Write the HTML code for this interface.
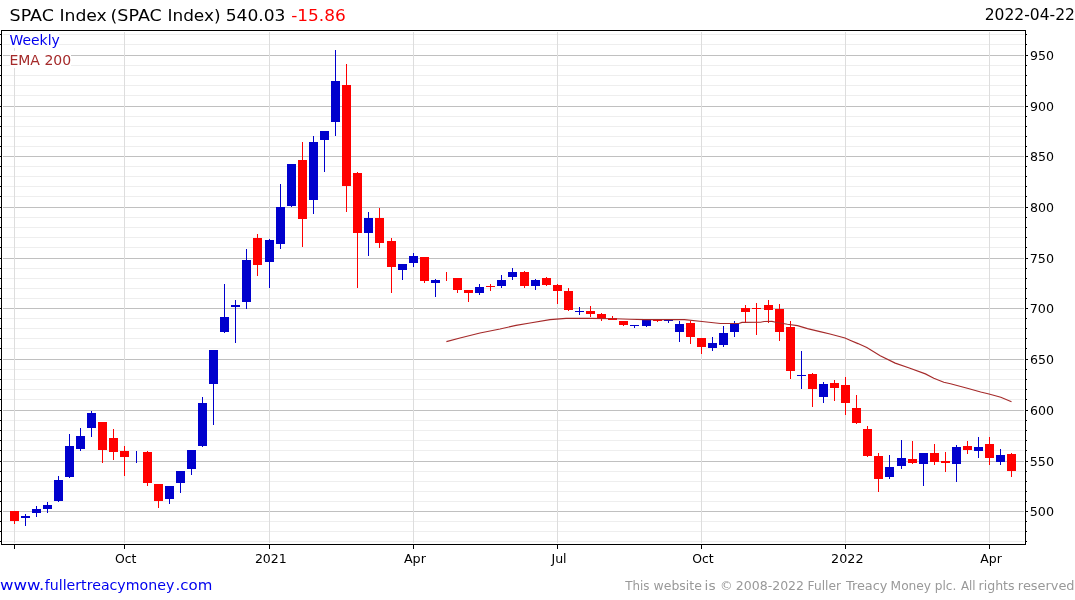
<!DOCTYPE html>
<html lang="en"><head><meta charset="utf-8"><title>SPAC Index</title>
<style>html,body{margin:0;padding:0;background:#fff}body{width:1075px;height:600px;overflow:hidden}svg{display:block}text{font-family:"DejaVu Sans","Liberation Sans",sans-serif}</style></head><body>
<svg width="1075" height="600" viewBox="0 0 1075 600">
<rect width="1075" height="600" fill="#fff"/>
<g shape-rendering="crispEdges">
<rect x="3" y="541" width="1021" height="1" fill="#eeeeee"/><rect x="3" y="531" width="1021" height="1" fill="#eeeeee"/><rect x="3" y="521" width="1021" height="1" fill="#eeeeee"/><rect x="3" y="511" width="1021" height="1" fill="#c0c0c0"/><rect x="3" y="501" width="1021" height="1" fill="#eeeeee"/><rect x="3" y="491" width="1021" height="1" fill="#eeeeee"/><rect x="3" y="481" width="1021" height="1" fill="#eeeeee"/><rect x="3" y="471" width="1021" height="1" fill="#eeeeee"/><rect x="3" y="461" width="1021" height="1" fill="#c0c0c0"/><rect x="3" y="450" width="1021" height="1" fill="#eeeeee"/><rect x="3" y="440" width="1021" height="1" fill="#eeeeee"/><rect x="3" y="430" width="1021" height="1" fill="#eeeeee"/><rect x="3" y="420" width="1021" height="1" fill="#eeeeee"/><rect x="3" y="410" width="1021" height="1" fill="#c0c0c0"/><rect x="3" y="399" width="1021" height="1" fill="#eeeeee"/><rect x="3" y="389" width="1021" height="1" fill="#eeeeee"/><rect x="3" y="379" width="1021" height="1" fill="#eeeeee"/><rect x="3" y="369" width="1021" height="1" fill="#eeeeee"/><rect x="3" y="359" width="1021" height="1" fill="#c0c0c0"/><rect x="3" y="348" width="1021" height="1" fill="#eeeeee"/><rect x="3" y="338" width="1021" height="1" fill="#eeeeee"/><rect x="3" y="328" width="1021" height="1" fill="#eeeeee"/><rect x="3" y="318" width="1021" height="1" fill="#eeeeee"/><rect x="3" y="308" width="1021" height="1" fill="#c0c0c0"/><rect x="3" y="298" width="1021" height="1" fill="#eeeeee"/><rect x="3" y="288" width="1021" height="1" fill="#eeeeee"/><rect x="3" y="278" width="1021" height="1" fill="#eeeeee"/><rect x="3" y="268" width="1021" height="1" fill="#eeeeee"/><rect x="3" y="258" width="1021" height="1" fill="#c0c0c0"/><rect x="3" y="247" width="1021" height="1" fill="#eeeeee"/><rect x="3" y="237" width="1021" height="1" fill="#eeeeee"/><rect x="3" y="227" width="1021" height="1" fill="#eeeeee"/><rect x="3" y="217" width="1021" height="1" fill="#eeeeee"/><rect x="3" y="207" width="1021" height="1" fill="#c0c0c0"/><rect x="3" y="196" width="1021" height="1" fill="#eeeeee"/><rect x="3" y="186" width="1021" height="1" fill="#eeeeee"/><rect x="3" y="176" width="1021" height="1" fill="#eeeeee"/><rect x="3" y="166" width="1021" height="1" fill="#eeeeee"/><rect x="3" y="156" width="1021" height="1" fill="#c0c0c0"/><rect x="3" y="146" width="1021" height="1" fill="#eeeeee"/><rect x="3" y="136" width="1021" height="1" fill="#eeeeee"/><rect x="3" y="126" width="1021" height="1" fill="#eeeeee"/><rect x="3" y="116" width="1021" height="1" fill="#eeeeee"/><rect x="3" y="106" width="1021" height="1" fill="#c0c0c0"/><rect x="3" y="95" width="1021" height="1" fill="#eeeeee"/><rect x="3" y="85" width="1021" height="1" fill="#eeeeee"/><rect x="3" y="75" width="1021" height="1" fill="#eeeeee"/><rect x="3" y="65" width="1021" height="1" fill="#eeeeee"/><rect x="3" y="55" width="1021" height="1" fill="#c0c0c0"/><rect x="3" y="44" width="1021" height="1" fill="#eeeeee"/><rect x="3" y="34" width="1021" height="1" fill="#eeeeee"/>
<rect x="14" y="32" width="1" height="511" fill="#dddddd"/><rect x="124" y="32" width="1" height="511" fill="#dddddd"/><rect x="269" y="32" width="1" height="511" fill="#dddddd"/><rect x="413" y="32" width="1" height="511" fill="#dddddd"/><rect x="557" y="32" width="1" height="511" fill="#dddddd"/><rect x="701" y="32" width="1" height="511" fill="#dddddd"/><rect x="845" y="32" width="1" height="511" fill="#dddddd"/><rect x="989" y="32" width="1" height="511" fill="#dddddd"/>
<rect x="10" y="31" width="49" height="17" fill="#fff"/><rect x="10" y="51" width="61" height="17" fill="#fff"/>
<rect x="1" y="30" width="1025" height="1" fill="#000"/><rect x="1" y="544" width="1025" height="1" fill="#000"/><rect x="1" y="30" width="1" height="515" fill="#000"/><rect x="1025" y="30" width="1" height="515" fill="#000"/>
<rect x="0" y="541" width="1" height="1" fill="#000"/><rect x="1026" y="541" width="1" height="1" fill="#000"/><rect x="0" y="531" width="1" height="1" fill="#000"/><rect x="1026" y="531" width="1" height="1" fill="#000"/><rect x="0" y="521" width="1" height="1" fill="#000"/><rect x="1026" y="521" width="1" height="1" fill="#000"/><rect x="0" y="511" width="1" height="1" fill="#000"/><rect x="1026" y="511" width="2" height="1" fill="#000"/><rect x="0" y="501" width="1" height="1" fill="#000"/><rect x="1026" y="501" width="1" height="1" fill="#000"/><rect x="0" y="491" width="1" height="1" fill="#000"/><rect x="1026" y="491" width="1" height="1" fill="#000"/><rect x="0" y="481" width="1" height="1" fill="#000"/><rect x="1026" y="481" width="1" height="1" fill="#000"/><rect x="0" y="471" width="1" height="1" fill="#000"/><rect x="1026" y="471" width="1" height="1" fill="#000"/><rect x="0" y="461" width="1" height="1" fill="#000"/><rect x="1026" y="461" width="2" height="1" fill="#000"/><rect x="0" y="450" width="1" height="1" fill="#000"/><rect x="1026" y="450" width="1" height="1" fill="#000"/><rect x="0" y="440" width="1" height="1" fill="#000"/><rect x="1026" y="440" width="1" height="1" fill="#000"/><rect x="0" y="430" width="1" height="1" fill="#000"/><rect x="1026" y="430" width="1" height="1" fill="#000"/><rect x="0" y="420" width="1" height="1" fill="#000"/><rect x="1026" y="420" width="1" height="1" fill="#000"/><rect x="0" y="410" width="1" height="1" fill="#000"/><rect x="1026" y="410" width="2" height="1" fill="#000"/><rect x="0" y="399" width="1" height="1" fill="#000"/><rect x="1026" y="399" width="1" height="1" fill="#000"/><rect x="0" y="389" width="1" height="1" fill="#000"/><rect x="1026" y="389" width="1" height="1" fill="#000"/><rect x="0" y="379" width="1" height="1" fill="#000"/><rect x="1026" y="379" width="1" height="1" fill="#000"/><rect x="0" y="369" width="1" height="1" fill="#000"/><rect x="1026" y="369" width="1" height="1" fill="#000"/><rect x="0" y="359" width="1" height="1" fill="#000"/><rect x="1026" y="359" width="2" height="1" fill="#000"/><rect x="0" y="348" width="1" height="1" fill="#000"/><rect x="1026" y="348" width="1" height="1" fill="#000"/><rect x="0" y="338" width="1" height="1" fill="#000"/><rect x="1026" y="338" width="1" height="1" fill="#000"/><rect x="0" y="328" width="1" height="1" fill="#000"/><rect x="1026" y="328" width="1" height="1" fill="#000"/><rect x="0" y="318" width="1" height="1" fill="#000"/><rect x="1026" y="318" width="1" height="1" fill="#000"/><rect x="0" y="308" width="1" height="1" fill="#000"/><rect x="1026" y="308" width="2" height="1" fill="#000"/><rect x="0" y="298" width="1" height="1" fill="#000"/><rect x="1026" y="298" width="1" height="1" fill="#000"/><rect x="0" y="288" width="1" height="1" fill="#000"/><rect x="1026" y="288" width="1" height="1" fill="#000"/><rect x="0" y="278" width="1" height="1" fill="#000"/><rect x="1026" y="278" width="1" height="1" fill="#000"/><rect x="0" y="268" width="1" height="1" fill="#000"/><rect x="1026" y="268" width="1" height="1" fill="#000"/><rect x="0" y="258" width="1" height="1" fill="#000"/><rect x="1026" y="258" width="2" height="1" fill="#000"/><rect x="0" y="247" width="1" height="1" fill="#000"/><rect x="1026" y="247" width="1" height="1" fill="#000"/><rect x="0" y="237" width="1" height="1" fill="#000"/><rect x="1026" y="237" width="1" height="1" fill="#000"/><rect x="0" y="227" width="1" height="1" fill="#000"/><rect x="1026" y="227" width="1" height="1" fill="#000"/><rect x="0" y="217" width="1" height="1" fill="#000"/><rect x="1026" y="217" width="1" height="1" fill="#000"/><rect x="0" y="207" width="1" height="1" fill="#000"/><rect x="1026" y="207" width="2" height="1" fill="#000"/><rect x="0" y="196" width="1" height="1" fill="#000"/><rect x="1026" y="196" width="1" height="1" fill="#000"/><rect x="0" y="186" width="1" height="1" fill="#000"/><rect x="1026" y="186" width="1" height="1" fill="#000"/><rect x="0" y="176" width="1" height="1" fill="#000"/><rect x="1026" y="176" width="1" height="1" fill="#000"/><rect x="0" y="166" width="1" height="1" fill="#000"/><rect x="1026" y="166" width="1" height="1" fill="#000"/><rect x="0" y="156" width="1" height="1" fill="#000"/><rect x="1026" y="156" width="2" height="1" fill="#000"/><rect x="0" y="146" width="1" height="1" fill="#000"/><rect x="1026" y="146" width="1" height="1" fill="#000"/><rect x="0" y="136" width="1" height="1" fill="#000"/><rect x="1026" y="136" width="1" height="1" fill="#000"/><rect x="0" y="126" width="1" height="1" fill="#000"/><rect x="1026" y="126" width="1" height="1" fill="#000"/><rect x="0" y="116" width="1" height="1" fill="#000"/><rect x="1026" y="116" width="1" height="1" fill="#000"/><rect x="0" y="106" width="1" height="1" fill="#000"/><rect x="1026" y="106" width="2" height="1" fill="#000"/><rect x="0" y="95" width="1" height="1" fill="#000"/><rect x="1026" y="95" width="1" height="1" fill="#000"/><rect x="0" y="85" width="1" height="1" fill="#000"/><rect x="1026" y="85" width="1" height="1" fill="#000"/><rect x="0" y="75" width="1" height="1" fill="#000"/><rect x="1026" y="75" width="1" height="1" fill="#000"/><rect x="0" y="65" width="1" height="1" fill="#000"/><rect x="1026" y="65" width="1" height="1" fill="#000"/><rect x="0" y="55" width="1" height="1" fill="#000"/><rect x="1026" y="55" width="2" height="1" fill="#000"/><rect x="0" y="44" width="1" height="1" fill="#000"/><rect x="1026" y="44" width="1" height="1" fill="#000"/><rect x="0" y="34" width="1" height="1" fill="#000"/><rect x="1026" y="34" width="1" height="1" fill="#000"/><rect x="14" y="545" width="1" height="4" fill="#000"/><rect x="124" y="545" width="1" height="4" fill="#000"/><rect x="269" y="545" width="1" height="4" fill="#000"/><rect x="413" y="545" width="1" height="4" fill="#000"/><rect x="557" y="545" width="1" height="4" fill="#000"/><rect x="701" y="545" width="1" height="4" fill="#000"/><rect x="845" y="545" width="1" height="4" fill="#000"/><rect x="989" y="545" width="1" height="4" fill="#000"/>
</g>
<g shape-rendering="crispEdges">
<rect x="14" y="511" width="1" height="13" fill="#ff0000"/><rect x="10" y="511" width="9" height="10" fill="#ff0000"/><rect x="25" y="514" width="1" height="12" fill="#0000cd"/><rect x="21" y="516" width="9" height="2" fill="#0000cd"/><rect x="36" y="506" width="1" height="11" fill="#0000cd"/><rect x="32" y="509" width="9" height="4" fill="#0000cd"/><rect x="47" y="502" width="1" height="11" fill="#0000cd"/><rect x="43" y="505" width="9" height="4" fill="#0000cd"/><rect x="58" y="476" width="1" height="26" fill="#0000cd"/><rect x="54" y="480" width="9" height="21" fill="#0000cd"/><rect x="69" y="434" width="1" height="44" fill="#0000cd"/><rect x="65" y="446" width="9" height="31" fill="#0000cd"/><rect x="80" y="428" width="1" height="23" fill="#0000cd"/><rect x="76" y="436" width="9" height="13" fill="#0000cd"/><rect x="91" y="411" width="1" height="26" fill="#0000cd"/><rect x="87" y="413" width="9" height="15" fill="#0000cd"/><rect x="102" y="422" width="1" height="41" fill="#ff0000"/><rect x="98" y="422" width="9" height="28" fill="#ff0000"/><rect x="113" y="429" width="1" height="31" fill="#ff0000"/><rect x="109" y="438" width="9" height="14" fill="#ff0000"/><rect x="124" y="446" width="1" height="30" fill="#ff0000"/><rect x="120" y="451" width="9" height="6" fill="#ff0000"/><rect x="136" y="451" width="1" height="12" fill="#0000cd"/><rect x="147" y="451" width="1" height="35" fill="#ff0000"/><rect x="143" y="452" width="9" height="31" fill="#ff0000"/><rect x="158" y="484" width="1" height="24" fill="#ff0000"/><rect x="154" y="484" width="9" height="17" fill="#ff0000"/><rect x="169" y="486" width="1" height="18" fill="#0000cd"/><rect x="165" y="486" width="9" height="13" fill="#0000cd"/><rect x="180" y="471" width="1" height="22" fill="#0000cd"/><rect x="176" y="471" width="9" height="12" fill="#0000cd"/><rect x="191" y="450" width="1" height="25" fill="#0000cd"/><rect x="187" y="450" width="9" height="19" fill="#0000cd"/><rect x="202" y="397" width="1" height="50" fill="#0000cd"/><rect x="198" y="403" width="9" height="43" fill="#0000cd"/><rect x="213" y="350" width="1" height="75" fill="#0000cd"/><rect x="209" y="350" width="9" height="34" fill="#0000cd"/><rect x="224" y="284" width="1" height="49" fill="#0000cd"/><rect x="220" y="317" width="9" height="15" fill="#0000cd"/><rect x="235" y="300" width="1" height="43" fill="#0000cd"/><rect x="231" y="305" width="9" height="2" fill="#0000cd"/><rect x="246" y="249" width="1" height="60" fill="#0000cd"/><rect x="242" y="260" width="9" height="42" fill="#0000cd"/><rect x="257" y="234" width="1" height="42" fill="#ff0000"/><rect x="253" y="238" width="9" height="27" fill="#ff0000"/><rect x="269" y="239" width="1" height="49" fill="#0000cd"/><rect x="265" y="240" width="9" height="22" fill="#0000cd"/><rect x="280" y="184" width="1" height="65" fill="#0000cd"/><rect x="276" y="207" width="9" height="37" fill="#0000cd"/><rect x="291" y="164" width="1" height="43" fill="#0000cd"/><rect x="287" y="164" width="9" height="42" fill="#0000cd"/><rect x="302" y="142" width="1" height="105" fill="#ff0000"/><rect x="298" y="160" width="9" height="59" fill="#ff0000"/><rect x="313" y="136" width="1" height="78" fill="#0000cd"/><rect x="309" y="142" width="9" height="58" fill="#0000cd"/><rect x="324" y="131" width="1" height="41" fill="#0000cd"/><rect x="320" y="131" width="9" height="9" fill="#0000cd"/><rect x="335" y="50" width="1" height="86" fill="#0000cd"/><rect x="331" y="81" width="9" height="41" fill="#0000cd"/><rect x="346" y="64" width="1" height="148" fill="#ff0000"/><rect x="342" y="85" width="9" height="101" fill="#ff0000"/><rect x="357" y="172" width="1" height="116" fill="#ff0000"/><rect x="353" y="173" width="9" height="60" fill="#ff0000"/><rect x="368" y="212" width="1" height="44" fill="#0000cd"/><rect x="364" y="218" width="9" height="15" fill="#0000cd"/><rect x="379" y="208" width="1" height="40" fill="#ff0000"/><rect x="375" y="218" width="9" height="25" fill="#ff0000"/><rect x="391" y="238" width="1" height="55" fill="#ff0000"/><rect x="387" y="241" width="9" height="26" fill="#ff0000"/><rect x="402" y="264" width="1" height="16" fill="#0000cd"/><rect x="398" y="264" width="9" height="6" fill="#0000cd"/><rect x="413" y="253" width="1" height="14" fill="#0000cd"/><rect x="409" y="256" width="9" height="7" fill="#0000cd"/><rect x="424" y="257" width="1" height="26" fill="#ff0000"/><rect x="420" y="257" width="9" height="24" fill="#ff0000"/><rect x="435" y="279" width="1" height="18" fill="#0000cd"/><rect x="431" y="280" width="9" height="3" fill="#0000cd"/><rect x="446" y="272" width="1" height="9" fill="#ff0000"/><rect x="457" y="278" width="1" height="15" fill="#ff0000"/><rect x="453" y="278" width="9" height="12" fill="#ff0000"/><rect x="468" y="290" width="1" height="12" fill="#ff0000"/><rect x="464" y="290" width="9" height="3" fill="#ff0000"/><rect x="479" y="284" width="1" height="11" fill="#0000cd"/><rect x="475" y="287" width="9" height="6" fill="#0000cd"/><rect x="490" y="284" width="1" height="7" fill="#ff0000"/><rect x="486" y="286" width="9" height="1" fill="#ff0000"/><rect x="501" y="275" width="1" height="13" fill="#0000cd"/><rect x="497" y="280" width="9" height="6" fill="#0000cd"/><rect x="512" y="268" width="1" height="12" fill="#0000cd"/><rect x="508" y="272" width="9" height="5" fill="#0000cd"/><rect x="524" y="271" width="1" height="17" fill="#ff0000"/><rect x="520" y="272" width="9" height="14" fill="#ff0000"/><rect x="535" y="279" width="1" height="11" fill="#0000cd"/><rect x="531" y="280" width="9" height="6" fill="#0000cd"/><rect x="546" y="277" width="1" height="9" fill="#ff0000"/><rect x="542" y="278" width="9" height="7" fill="#ff0000"/><rect x="557" y="284" width="1" height="20" fill="#ff0000"/><rect x="553" y="285" width="9" height="6" fill="#ff0000"/><rect x="568" y="288" width="1" height="23" fill="#ff0000"/><rect x="564" y="291" width="9" height="19" fill="#ff0000"/><rect x="579" y="307" width="1" height="8" fill="#0000cd"/><rect x="575" y="311" width="9" height="1" fill="#0000cd"/><rect x="590" y="306" width="1" height="11" fill="#ff0000"/><rect x="586" y="311" width="9" height="3" fill="#ff0000"/><rect x="601" y="313" width="1" height="8" fill="#ff0000"/><rect x="597" y="314" width="9" height="5" fill="#ff0000"/><rect x="612" y="316" width="1" height="4" fill="#ff0000"/><rect x="608" y="318" width="9" height="2" fill="#ff0000"/><rect x="623" y="321" width="1" height="5" fill="#ff0000"/><rect x="619" y="321" width="9" height="4" fill="#ff0000"/><rect x="634" y="325" width="1" height="3" fill="#0000cd"/><rect x="630" y="325" width="9" height="1" fill="#0000cd"/><rect x="646" y="320" width="1" height="7" fill="#0000cd"/><rect x="642" y="320" width="9" height="6" fill="#0000cd"/><rect x="657" y="320" width="1" height="2" fill="#ff0000"/><rect x="653" y="320" width="9" height="1" fill="#ff0000"/><rect x="668" y="320" width="1" height="3" fill="#0000cd"/><rect x="664" y="320" width="9" height="1" fill="#0000cd"/><rect x="679" y="321" width="1" height="21" fill="#0000cd"/><rect x="675" y="324" width="9" height="8" fill="#0000cd"/><rect x="690" y="321" width="1" height="23" fill="#ff0000"/><rect x="686" y="323" width="9" height="14" fill="#ff0000"/><rect x="701" y="338" width="1" height="16" fill="#ff0000"/><rect x="697" y="338" width="9" height="9" fill="#ff0000"/><rect x="712" y="337" width="1" height="14" fill="#0000cd"/><rect x="708" y="343" width="9" height="5" fill="#0000cd"/><rect x="723" y="326" width="1" height="21" fill="#0000cd"/><rect x="719" y="333" width="9" height="12" fill="#0000cd"/><rect x="734" y="321" width="1" height="16" fill="#0000cd"/><rect x="730" y="324" width="9" height="8" fill="#0000cd"/><rect x="745" y="305" width="1" height="18" fill="#ff0000"/><rect x="741" y="308" width="9" height="4" fill="#ff0000"/><rect x="756" y="303" width="1" height="32" fill="#ff0000"/><rect x="752" y="308" width="9" height="1" fill="#ff0000"/><rect x="768" y="300" width="1" height="23" fill="#ff0000"/><rect x="764" y="305" width="9" height="5" fill="#ff0000"/><rect x="779" y="304" width="1" height="37" fill="#ff0000"/><rect x="775" y="309" width="9" height="23" fill="#ff0000"/><rect x="790" y="321" width="1" height="58" fill="#ff0000"/><rect x="786" y="327" width="9" height="44" fill="#ff0000"/><rect x="801" y="351" width="1" height="38" fill="#0000cd"/><rect x="797" y="375" width="9" height="1" fill="#0000cd"/><rect x="812" y="373" width="1" height="34" fill="#ff0000"/><rect x="808" y="374" width="9" height="15" fill="#ff0000"/><rect x="823" y="382" width="1" height="21" fill="#0000cd"/><rect x="819" y="384" width="9" height="13" fill="#0000cd"/><rect x="834" y="380" width="1" height="21" fill="#ff0000"/><rect x="830" y="383" width="9" height="5" fill="#ff0000"/><rect x="845" y="377" width="1" height="38" fill="#ff0000"/><rect x="841" y="385" width="9" height="18" fill="#ff0000"/><rect x="856" y="395" width="1" height="29" fill="#ff0000"/><rect x="852" y="408" width="9" height="15" fill="#ff0000"/><rect x="867" y="426" width="1" height="31" fill="#ff0000"/><rect x="863" y="429" width="9" height="27" fill="#ff0000"/><rect x="878" y="453" width="1" height="39" fill="#ff0000"/><rect x="874" y="456" width="9" height="23" fill="#ff0000"/><rect x="889" y="455" width="1" height="24" fill="#0000cd"/><rect x="885" y="467" width="9" height="10" fill="#0000cd"/><rect x="901" y="440" width="1" height="29" fill="#0000cd"/><rect x="897" y="458" width="9" height="8" fill="#0000cd"/><rect x="912" y="441" width="1" height="23" fill="#ff0000"/><rect x="908" y="459" width="9" height="4" fill="#ff0000"/><rect x="923" y="453" width="1" height="33" fill="#0000cd"/><rect x="919" y="453" width="9" height="11" fill="#0000cd"/><rect x="934" y="444" width="1" height="21" fill="#ff0000"/><rect x="930" y="453" width="9" height="9" fill="#ff0000"/><rect x="945" y="452" width="1" height="20" fill="#ff0000"/><rect x="941" y="461" width="9" height="2" fill="#ff0000"/><rect x="956" y="445" width="1" height="37" fill="#0000cd"/><rect x="952" y="447" width="9" height="17" fill="#0000cd"/><rect x="967" y="441" width="1" height="13" fill="#ff0000"/><rect x="963" y="446" width="9" height="4" fill="#ff0000"/><rect x="978" y="437" width="1" height="21" fill="#0000cd"/><rect x="974" y="447" width="9" height="4" fill="#0000cd"/><rect x="989" y="437" width="1" height="28" fill="#ff0000"/><rect x="985" y="444" width="9" height="14" fill="#ff0000"/><rect x="1000" y="449" width="1" height="16" fill="#0000cd"/><rect x="996" y="455" width="9" height="7" fill="#0000cd"/><rect x="1011" y="453" width="1" height="24" fill="#ff0000"/><rect x="1007" y="454" width="9" height="17" fill="#ff0000"/>
</g>
<polyline points="446.4,341.6 460.0,338.0 480.0,333.0 500.0,329.0 516.0,325.4 530.0,323.0 550.0,319.6 566.0,318.4 590.0,318.4 615.0,318.8 630.0,319.2 645.0,319.6 684.4,319.6 702.0,321.5 720.4,323.5 738.8,323.5 742.0,322.4 760.6,322.3 764.0,321.5 772.0,321.4 775.7,322.3 787.4,324.3 797.5,325.6 807.5,328.6 820.0,331.6 830.0,334.0 845.0,338.0 850.0,340.2 858.0,343.6 866.8,347.6 880.2,355.7 895.2,363.1 908.6,367.7 925.4,373.9 933.8,378.2 943.8,382.2 950.5,383.7 967.3,388.3 980.7,392.0 989.0,394.0 1000.8,397.3 1011.5,401.7" fill="none" stroke="#a52a2a" stroke-width="1.15"/>
<text id="t1" y="20.8" font-size="16" fill="#000"><tspan x="9.55" textLength="44.40" lengthAdjust="spacingAndGlyphs">SPAC</tspan> <tspan x="59.42" textLength="47.39" lengthAdjust="spacingAndGlyphs">Index</tspan> <tspan x="110.55" textLength="51.21" lengthAdjust="spacingAndGlyphs">(SPAC</tspan> <tspan x="167.48" textLength="53.08" lengthAdjust="spacingAndGlyphs">Index)</tspan> <tspan x="225.68" textLength="59.73" lengthAdjust="spacingAndGlyphs">540.03</tspan> <tspan fill="#ff0000"><tspan x="291.23" textLength="54.54" lengthAdjust="spacingAndGlyphs">-15.86</tspan></tspan></text>
<text id="t3" x="984.66" y="20.2" font-size="15" fill="#000" textLength="90.26" lengthAdjust="spacingAndGlyphs">2022-04-22</text>
<text id="t4" x="9.49" y="45" font-size="14" fill="#0000ee" textLength="50.35" lengthAdjust="spacingAndGlyphs">Weekly</text>
<text id="t5" x="9.41" y="65" font-size="13.5" fill="#a52a2a" textLength="61.76" lengthAdjust="spacingAndGlyphs">EMA 200</text>
<text class="yl" x="1029.97" y="59.9" font-size="12" fill="#000" textLength="24.00" lengthAdjust="spacingAndGlyphs">950</text>
<text class="yl" x="1029.97" y="110.9" font-size="12" fill="#000" textLength="24.00" lengthAdjust="spacingAndGlyphs">900</text>
<text class="yl" x="1029.97" y="160.9" font-size="12" fill="#000" textLength="24.00" lengthAdjust="spacingAndGlyphs">850</text>
<text class="yl" x="1029.97" y="211.9" font-size="12" fill="#000" textLength="24.00" lengthAdjust="spacingAndGlyphs">800</text>
<text class="yl" x="1029.70" y="262.9" font-size="12" fill="#000" textLength="24.29" lengthAdjust="spacingAndGlyphs">750</text>
<text class="yl" x="1029.70" y="312.9" font-size="12" fill="#000" textLength="24.29" lengthAdjust="spacingAndGlyphs">700</text>
<text class="yl" x="1029.97" y="363.9" font-size="12" fill="#000" textLength="24.00" lengthAdjust="spacingAndGlyphs">650</text>
<text class="yl" x="1029.97" y="414.9" font-size="12" fill="#000" textLength="24.00" lengthAdjust="spacingAndGlyphs">600</text>
<text class="yl" x="1029.70" y="465.9" font-size="12" fill="#000" textLength="24.29" lengthAdjust="spacingAndGlyphs">550</text>
<text class="yl" x="1029.70" y="515.9" font-size="12" fill="#000" textLength="24.29" lengthAdjust="spacingAndGlyphs">500</text>
<text class="xl" x="114.94" y="563" font-size="12" fill="#000" textLength="21.49" lengthAdjust="spacingAndGlyphs">Oct</text>
<text class="xl" x="254.90" y="563" font-size="12" fill="#000" textLength="31.93" lengthAdjust="spacingAndGlyphs">2021</text>
<text class="xl" x="403.90" y="563" font-size="12" fill="#000" textLength="22.03" lengthAdjust="spacingAndGlyphs">Apr</text>
<text class="xl" x="551.46" y="563" font-size="12" fill="#000" textLength="15.17" lengthAdjust="spacingAndGlyphs">Jul</text>
<text class="xl" x="692.15" y="563" font-size="12" fill="#000" textLength="21.53" lengthAdjust="spacingAndGlyphs">Oct</text>
<text class="xl" x="831.11" y="563" font-size="12" fill="#000" textLength="32.45" lengthAdjust="spacingAndGlyphs">2022</text>
<text class="xl" x="980.35" y="563" font-size="12" fill="#000" textLength="21.58" lengthAdjust="spacingAndGlyphs">Apr</text>
<text id="t6" y="589.6" font-size="14.5" fill="#0000ee"><tspan x="-0.08" textLength="44.32" lengthAdjust="spacingAndGlyphs">www.</tspan><tspan x="44.75" textLength="129.55" lengthAdjust="spacingAndGlyphs">fullertreacymoney</tspan><tspan x="175.45" textLength="36.81" lengthAdjust="spacingAndGlyphs">.com</tspan></text>
<text id="t7" y="589.6" font-size="12.5" fill="#999999"><tspan x="625.22" textLength="24.27" lengthAdjust="spacingAndGlyphs">This</tspan> <tspan x="653.53" textLength="48.34" lengthAdjust="spacingAndGlyphs">website</tspan> <tspan x="704.63" textLength="11.05" lengthAdjust="spacingAndGlyphs">is</tspan> <tspan x="720.01" textLength="12.62" lengthAdjust="spacingAndGlyphs">©</tspan> <tspan x="735.79" textLength="68.28" lengthAdjust="spacingAndGlyphs">2008-2022</tspan> <tspan x="807.62" textLength="33.43" lengthAdjust="spacingAndGlyphs">Fuller</tspan> <tspan x="845.94" textLength="41.49" lengthAdjust="spacingAndGlyphs">Treacy</tspan> <tspan x="890.62" textLength="40.48" lengthAdjust="spacingAndGlyphs">Money</tspan> <tspan x="934.72" textLength="21.63" lengthAdjust="spacingAndGlyphs">plc.</tspan> <tspan x="960.89" textLength="14.60" lengthAdjust="spacingAndGlyphs">All</tspan> <tspan x="978.54" textLength="36.07" lengthAdjust="spacingAndGlyphs">rights</tspan> <tspan x="1017.87" textLength="56.70" lengthAdjust="spacingAndGlyphs">reserved</tspan></text>
</svg></body></html>
